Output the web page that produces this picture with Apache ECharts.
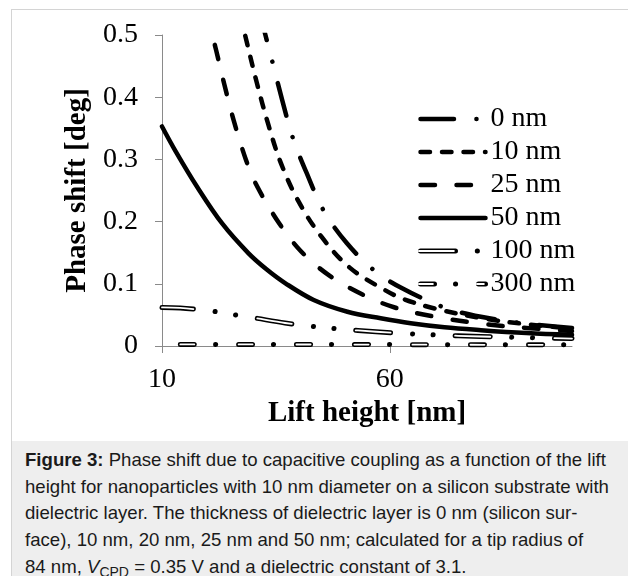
<!DOCTYPE html>
<html>
<head>
<meta charset="utf-8">
<script src="https://cdn.jsdelivr.net/npm/echarts@6/dist/echarts.min.js"></script>
<style>
html,body{margin:0;padding:0;width:628px;height:576px;overflow:hidden;background:#fff}
#frame{position:absolute;left:11px;top:9px;width:700px;height:700px;border:1px solid #d4d4d4;box-sizing:border-box}
#chart{position:absolute;left:0;top:0;width:628px;height:576px}
#caption{position:absolute;left:12px;top:441px;width:700px;height:200px;background:#eeeeee;box-sizing:border-box;
  padding:6px 0 0 13px;font-family:'Liberation Sans',Arial,sans-serif;font-size:18.6px;line-height:26.7px;color:#1a1a1a;white-space:nowrap}
#caption sub{font-size:14px;line-height:0;vertical-align:-4px}
</style>
</head>
<body>
<div id="frame"></div>
<div id="chart"></div>
<div id="caption"><b>Figure 3:</b> Phase shift due to capacitive coupling as a function of the lift<br>height for nanoparticles with 10 nm diameter on a silicon substrate with<br>dielectric layer. The thickness of dielectric layer is 0 nm (silicon sur-<br>face), 10 nm, 20 nm, 25 nm and 50 nm; calculated for a tip radius of<br>84 nm, <i>V</i><sub>CPD</sub> = 0.35 V and a dielectric constant of 3.1.</div>
<script>
// ---- data ----
const seriesNames = ['0 nm', '10 nm', '25 nm', '50 nm', '100 nm', '300 nm'];
const xTickValues = [10, 60];

const x0nm = [32.0, 32.7, 34.3, 36.4, 38.7, 41.7, 45.5, 50.5, 56.5, 62.4, 71.9, 80, 90, 100];
const y0nm = [0.52, 0.5, 0.455, 0.395, 0.335, 0.279, 0.2175, 0.166, 0.122, 0.094, 0.0622, 0.047, 0.036, 0.029];

const x10nm = [27.6, 28.3, 30.8, 33.3, 36.1, 40, 45, 51.2, 58.9, 63, 70, 80, 90, 100];
const y10nm = [0.519, 0.498, 0.4236, 0.357, 0.294, 0.232, 0.1757, 0.126, 0.090, 0.0756, 0.060, 0.045, 0.035, 0.028];

const x25nm = [20.6, 21.05, 21.9, 23.7, 25.8, 28.4, 30.5, 35.6, 40.6, 46.6, 53.8, 61.1, 70, 80, 90, 100];
const y25nm = [0.515, 0.5, 0.475, 0.42, 0.361, 0.30, 0.262, 0.1986, 0.1516, 0.114, 0.0836, 0.0619, 0.047, 0.036, 0.029, 0.024];

const x50nm = [10, 13, 17.7, 23.2, 29, 33, 37.1, 43.3, 50.7, 58, 64.6, 72, 80, 90, 100];
const y50nm = [0.353, 0.313, 0.256, 0.197, 0.149, 0.123, 0.1008, 0.074, 0.0551, 0.0445, 0.0365, 0.030, 0.0255, 0.021, 0.018];

const x100nm = [10, 14, 18, 22, 26, 30, 37, 43, 48, 53, 61, 70, 80, 90, 100];
const y100nm = [0.062, 0.0612, 0.0585, 0.055, 0.050, 0.0455, 0.037, 0.0315, 0.028, 0.025, 0.021, 0.0178, 0.0153, 0.0135, 0.012];

const x300nm = [10, 25, 40, 55, 70, 85, 100];
const y300nm = [0.0026, 0.0025, 0.0024, 0.0023, 0.0021, 0.0019, 0.0018];

function pairs(xs, ys) { return xs.map((x, i) => [x, ys[i]]); }

const serif = "'Liberation Serif','Times New Roman',serif";
const axisGray = '#8a8a8a';

function lineSeries(name, xs, ys, style, z) {
  return {
    type: 'line', name: name, data: pairs(xs, ys),
    symbol: 'none', showSymbol: false, smooth: 0.35, z: z || 2,
    silent: true,
    lineStyle: Object.assign({ color: '#000', cap: 'round', join: 'round' }, style)
  };
}

const chart = echarts.init(document.getElementById('chart'), null, { renderer: 'canvas' });

const legendTop = 105;
const legendCommon = {
  orient: 'vertical', left: 418, padding: 0, itemGap: 5,
  itemWidth: 65, itemHeight: 14, selectedMode: false,
  textStyle: { fontFamily: serif, fontSize: 28, lineHeight: 28, color: '#000' },
  itemStyle: { opacity: 0, color: 'rgba(0,0,0,0)', borderWidth: 0 },
  lineStyle: { width: 'inherit', dashOffset: 0 }
};

chart.setOption({
  animation: false,
  backgroundColor: 'transparent',
  grid: { left: 162, right: 56, top: 35, bottom: 230, containLabel: false },
  xAxis: {
    type: 'value', min: 10, max: 100,
    name: 'Lift height [nm]', nameLocation: 'middle', nameGap: 49,
    nameTextStyle: { fontFamily: serif, fontSize: 29, fontWeight: 'bold', color: '#000' },
    axisLine: { show: true, onZero: false, lineStyle: { color: axisGray, width: 1 } },
    axisTick: { show: true, length: 7, inside: false, customValues: xTickValues, lineStyle: { color: axisGray } },
    axisLabel: { customValues: xTickValues, margin: 20, fontFamily: serif, fontSize: 28, color: '#000' },
    splitLine: { show: false }
  },
  yAxis: {
    type: 'value', min: 0, max: 0.5, interval: 0.1,
    name: 'Phase shift [deg]', nameLocation: 'middle', nameGap: 66,
    nameTextStyle: { fontFamily: serif, fontSize: 29, fontWeight: 'bold', color: '#000' },
    axisLine: { show: true, lineStyle: { color: axisGray, width: 1 } },
    axisTick: { show: true, length: 7, inside: false, lineStyle: { color: axisGray } },
    axisLabel: { margin: 24, fontFamily: serif, fontSize: 28, color: '#000' },
    splitLine: { show: false }
  },
  legend: [
    Object.assign({}, legendCommon, { top: legendTop, data: seriesNames, z: 4 }),
    Object.assign({}, legendCommon, {
      top: legendTop + 4 * 33, data: ['100 nm inner', '300 nm inner'], z: 6,
      formatter: function () { return ' '; },
      textStyle: { fontFamily: serif, fontSize: 28, lineHeight: 28, color: 'rgba(0,0,0,0)' }
    })
  ],
  series: [
    lineSeries('0 nm', x0nm, y0nm, { width: 4.5, type: [33.5, 22.4, 0.1, 22.1], dashOffset: 15.55 }, 2),
    lineSeries('10 nm', x10nm, y10nm, { width: 4.5, type: [9.5, 12], dashOffset: 8.55 }, 2),
    lineSeries('25 nm', x25nm, y25nm, { width: 4.5, type: [14.5, 21.5], dashOffset: 16.25 }, 2),
    lineSeries('50 nm', x50nm, y50nm, { width: 4.5, type: 'solid' }, 2),
    lineSeries('100 nm', x100nm, y100nm, { width: 5, type: [35, 21.8, 0.1, 20.6, 0.1, 21.8], dashOffset: 3.5 }, 2),
    lineSeries('100 nm inner', x100nm, y100nm, { width: 1.8, color: '#fff', type: [35, 64.4], dashOffset: 3.5 }, 3),
    lineSeries('300 nm', x300nm, y300nm, { width: 5, type: [14, 21, 0.1, 22.9], dashOffset: 39.5 }, 2),
    lineSeries('300 nm inner', x300nm, y300nm, { width: 1.8, color: '#fff', type: [14, 44], dashOffset: 39.5 }, 3)
  ]
});
</script>
</body>
</html>
